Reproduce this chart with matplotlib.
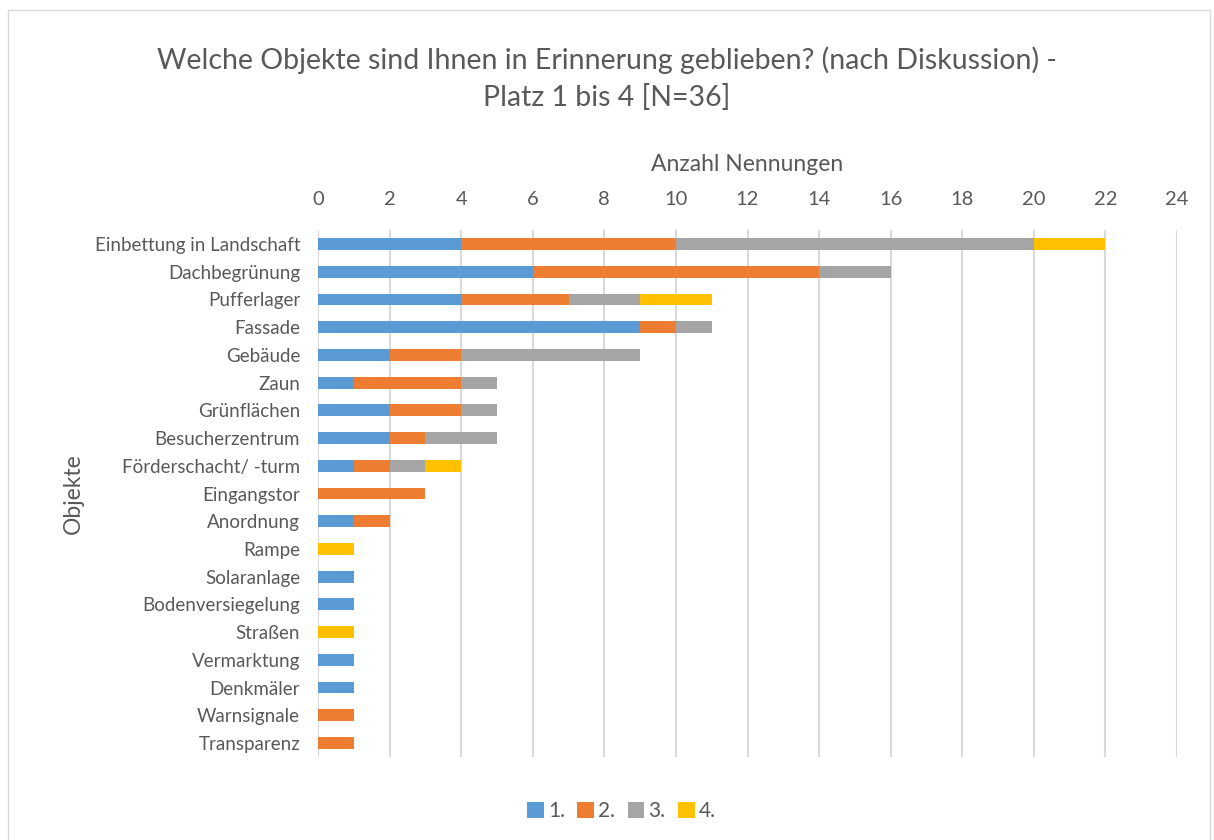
import numpy as np
import matplotlib.pyplot as plt
from matplotlib.patches import Rectangle

plt.rcParams['font.family'] = ['Lato', 'DejaVu Sans']

# data
categories = ["Einbettung in Landschaft", "Dachbegrünung", "Pufferlager", "Fassade",
              "Gebäude", "Zaun", "Grünflächen", "Besucherzentrum",
              "Förderschacht/ -turm", "Eingangstor", "Anordnung", "Rampe",
              "Solaranlage", "Bodenversiegelung", "Straßen", "Vermarktung",
              "Denkmäler", "Warnsignale", "Transparenz"]
platz1 = [4, 6, 4, 9, 2, 1, 2, 2, 1, 0, 1, 0, 1, 1, 0, 1, 1, 0, 0]
platz2 = [6, 8, 3, 1, 2, 3, 2, 1, 1, 3, 1, 0, 0, 0, 0, 0, 0, 1, 1]
platz3 = [10, 2, 2, 1, 5, 1, 1, 2, 1, 0, 0, 0, 0, 0, 0, 0, 0, 0, 0]
platz4 = [2, 0, 2, 0, 0, 0, 0, 0, 1, 0, 0, 1, 0, 0, 1, 0, 0, 0, 0]
series_names = ["1.", "2.", "3.", "4."]
colors = ["#5b9bd5", "#ed7d31", "#a5a5a5", "#ffc000"]

text_col = "#595959"

fig = plt.figure(figsize=(12.14, 8.4), dpi=100)
ax = fig.add_axes([0.262, 0.099, 0.7075, 0.627])

y = np.arange(len(categories))
left = np.zeros(len(categories))
for vals, name, c in zip([platz1, platz2, platz3, platz4], series_names, colors):
    vals = np.array(vals)
    ax.barh(y, vals, left=left, height=0.43, color=c, label=name, zorder=3)
    left += vals

ax.set_xlim(0, 24)
ax.set_ylim(len(categories) - 0.5, -0.5)
ax.set_xticks(range(0, 25, 2))
ax.xaxis.tick_top()
ax.xaxis.set_label_position('top')
ax.set_xlabel("Anzahl Nennungen", fontsize=16.5, color=text_col, labelpad=14)
ax.set_ylabel("Objekte", fontsize=16.5, color=text_col, labelpad=8)
ax.set_yticks(y)
ax.set_yticklabels(categories)
ax.tick_params(axis='x', length=0, labelsize=14.5, labelcolor=text_col, pad=16)
ax.tick_params(axis='y', length=0, labelsize=13.5, labelcolor=text_col, pad=13)
ax.grid(axis='x', color="#d9d9d9", linewidth=1.5, zorder=0)
for s in ax.spines.values():
    s.set_visible(False)

fig.suptitle("Welche Objekte sind Ihnen in Erinnerung geblieben? (nach Diskussion) -\nPlatz 1 bis 4 [N=36]",
             fontsize=20.5, color=text_col, y=0.945, linespacing=1.45)

fig.legend(loc='lower center', bbox_to_anchor=(0.512, 0.0), ncol=4, frameon=False,
           fontsize=15, labelcolor=text_col, handlelength=0.8, handleheight=0.8,
           handletextpad=0.2, columnspacing=0.6)

fig.patches.append(Rectangle((0.007, -0.01), 0.99, 0.998, transform=fig.transFigure,
                             fill=False, edgecolor="#d9d9d9", linewidth=1))

fig.savefig("out.png", dpi=100)
